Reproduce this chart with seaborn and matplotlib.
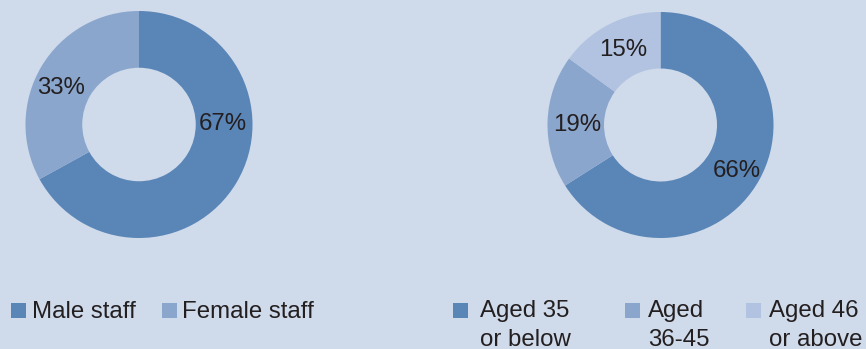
import matplotlib
matplotlib.use("Agg")
import matplotlib.pyplot as plt
import seaborn as sns
from matplotlib.patches import Rectangle
import numpy as np

# ---- data ----
gender_labels = ["Male staff", "Female staff"]
gender_values = [67, 33]
age_labels = ["Aged 35\nor below", "Aged\n36-45", "Aged 46\nor above"]
age_values = [66, 19, 15]

# ---- style ----
BG = "#cfdaea"
C_DARK = "#5a85b7"
C_MID = "#8ba6cd"
C_LIGHT = "#b1c3e1"
TXT = "#231f20"

sns.set_theme(style="white")
plt.rcParams["font.family"] = ["Liberation Sans", "DejaVu Sans"]

W, H = 866, 349
fig = plt.figure(figsize=(W / 100, H / 100), dpi=100, facecolor=BG)


def donut(cx, cy, r, values, colors, label_angles, label_r):
    ax = fig.add_axes([(cx - r) / W, (H - cy - r) / H, 2 * r / W, 2 * r / H])
    ax.set_facecolor(BG)
    ax.pie(values, colors=colors, startangle=90, counterclock=False, radius=1.0,
           wedgeprops=dict(width=0.5, linewidth=0))
    for v, a, lr in zip(values, label_angles, label_r):
        t = np.deg2rad(a)
        ax.text(lr * np.cos(t), lr * np.sin(t), f"{v}%", ha="center",
                va="center", fontsize=17.3, color=TXT)
    ax.set_xlim(-1, 1)
    ax.set_ylim(-1, 1)
    ax.set_aspect("equal")
    ax.axis("off")
    return ax


donut(139, 124.5, 113.5, gender_values, [C_DARK, C_MID], [0, 155], [0.74, 0.76])
donut(660.5, 125, 113, age_values, [C_DARK, C_MID, C_LIGHT], [-31, 180, 116.6],
      [0.79, 0.74, 0.74])


def legend(labels, colors, marker_x, text_x, marker_top=302.5, size=15,
           baseline=317.5, line_step=28.5):
    for lab, c, mx, tx in zip(labels, colors, marker_x, text_x):
        fig.patches.append(Rectangle((mx / W, 1 - (marker_top + size) / H), size / W,
                                     size / H, transform=fig.transFigure,
                                     facecolor=c, edgecolor="none"))
        for i, line in enumerate(lab.split("\n")):
            fig.text(tx / W, 1 - (baseline + i * line_step) / H, line, ha="left",
                     va="baseline", fontsize=17.3, color=TXT)


legend(gender_labels, [C_DARK, C_MID], [11, 162], [32, 182])
legend(age_labels, [C_DARK, C_MID, C_LIGHT], [453, 625, 746], [479.5, 648, 769])

fig.savefig("out.png", dpi=100, facecolor=BG)
